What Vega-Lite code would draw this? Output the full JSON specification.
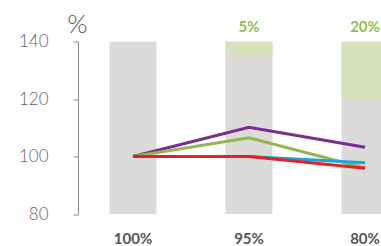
{
  "$schema": "https://vega.github.io/schema/vega-lite/v6.json",
  "autosize": "none",
  "width": 303,
  "height": 172.5,
  "padding": {"left": 78, "top": 41.5, "right": 0, "bottom": 32},
  "background": "white",
  "config": {"view": {"stroke": null}},
  "datasets": {
    "cols": [
      {"cap": "100%", "lo": 80, "hi": 140},
      {"cap": "95%", "lo": 80, "hi": 140, "glo": 135, "lab": "5%"},
      {"cap": "80%", "lo": 80, "hi": 140, "glo": 120, "lab": "20%"}
    ],
    "lines": [
      {"cap": "100%", "s": "purple", "v": 100},
      {"cap": "95%", "s": "purple", "v": 110.2},
      {"cap": "80%", "s": "purple", "v": 103.2},
      {"cap": "100%", "s": "green", "v": 100},
      {"cap": "95%", "s": "green", "v": 106.5},
      {"cap": "80%", "s": "green", "v": 96},
      {"cap": "100%", "s": "blue", "v": 100},
      {"cap": "95%", "s": "blue", "v": 100},
      {"cap": "80%", "s": "blue", "v": 97.8},
      {"cap": "100%", "s": "red", "v": 100},
      {"cap": "95%", "s": "red", "v": 100},
      {"cap": "80%", "s": "red", "v": 95.9}
    ]
  },
  "encoding": {
    "x": {
      "field": "cap",
      "type": "nominal",
      "sort": ["100%", "95%", "80%"],
      "scale": {"type": "band", "range": [0, 342], "paddingInner": 0.595, "paddingOuter": 0.2716},
      "axis": {
        "title": null,
        "domain": false,
        "ticks": false,
        "labelAngle": 0,
        "labelPadding": 17,
        "labelFont": "Lato",
        "labelFontWeight": "bold",
        "labelFontSize": 15,
        "labelColor": "#555555"
      }
    }
  },
  "layer": [
    {
      "data": {"name": "cols"},
      "mark": {"type": "bar", "color": "#dcdbda", "clip": true},
      "encoding": {
        "y": {
          "field": "lo",
          "type": "quantitative",
          "scale": {"domain": [80, 140], "nice": false, "zero": false},
          "axis": {
            "values": [80, 90, 100, 110, 120, 130, 140],
            "labelExpr": "datum.value % 20 == 0 ? datum.label : ''",
            "grid": false,
            "domainColor": "#888888",
            "tickColor": "#888888",
            "tickSize": 5,
            "labelPadding": 25,
            "labelFont": "Lato",
            "labelFontWeight": 300,
            "labelFontSize": 17,
            "labelColor": "#666666",
            "title": "%",
            "titleAngle": 0,
            "titleX": -1,
            "titleY": -9,
            "titleAlign": "center",
            "titleBaseline": "alphabetic",
            "titleFont": "Lato",
            "titleFontWeight": 300,
            "titleFontSize": 26,
            "titleColor": "#555555"
          }
        },
        "y2": {"field": "hi"}
      }
    },
    {
      "data": {"name": "cols"},
      "mark": {"type": "bar", "color": "#d6e3bb", "clip": true},
      "encoding": {
        "y": {"field": "glo", "type": "quantitative"},
        "y2": {"field": "hi"}
      }
    },
    {
      "data": {"name": "cols"},
      "transform": [{"filter": "isValid(datum.lab)"}],
      "mark": {"type": "text", "dy": -7, "baseline": "bottom", "font": "Lato", "fontWeight": "bold", "fontSize": 15, "color": "#8dbf4a"},
      "encoding": {
        "y": {"field": "hi", "type": "quantitative"},
        "text": {"field": "lab"}
      }
    },
    {
      "data": {"name": "lines"},
      "mark": {"type": "line", "strokeWidth": 3, "clip": true},
      "encoding": {
        "y": {"field": "v", "type": "quantitative"},
        "color": {
          "field": "s",
          "type": "nominal",
          "sort": ["purple", "green", "blue", "red"],
          "scale": {"domain": ["purple", "green", "blue", "red"], "range": ["#7b2f8c", "#90b84c", "#17a6d8", "#e3202a"]},
          "legend": null
        }
      }
    }
  ]
}
